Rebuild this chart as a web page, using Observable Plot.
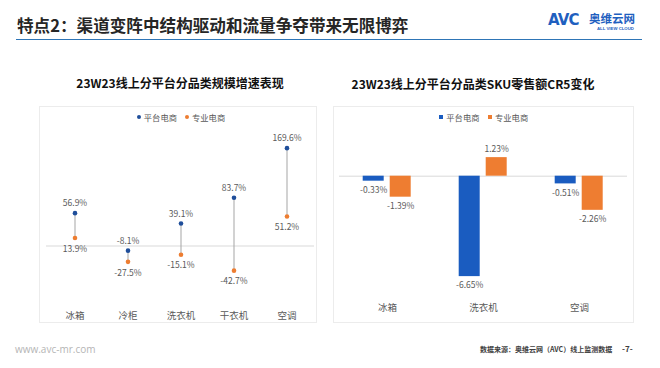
<!DOCTYPE html>
<html><head><meta charset="utf-8">
<script src="https://cdn.jsdelivr.net/npm/d3@7"></script>
<script src="https://cdn.jsdelivr.net/npm/@observablehq/plot@0.6"></script>
<style>
html,body{margin:0;padding:0;background:#fff;}
#page{position:relative;width:660px;height:368px;overflow:hidden;background:#fff;font-family:"Noto Sans CJK SC","Noto Sans",sans-serif;}
.abs{position:absolute;white-space:nowrap;}
.panel{position:absolute;border:1px solid #ececec;box-sizing:border-box;}
.ctitle{position:absolute;font-weight:bold;font-size:12px;color:#111;line-height:14px;transform:translateX(-50%);white-space:nowrap;}
.legend{position:absolute;display:flex;align-items:center;font-size:8.3px;color:#595959;line-height:10px;white-space:nowrap;}
.sw{display:inline-block;margin-right:3px;}
.item{display:flex;align-items:center;margin:0 4px;}
svg{position:absolute;overflow:visible;}
</style></head>
<body><div id="page">
<div class="abs" style="left:17px;top:14px;font-size:16.6px;font-weight:bold;color:#262626;line-height:22px;">特点2：渠道变阵中结构驱动和流量争夺带来无限博弈</div>
<div class="abs" style="left:16px;top:38.5px;width:626px;height:1.4px;background:#2e75b6;"></div>
<div class="abs" style="left:548px;top:9px;font-family:'DejaVu Sans',sans-serif;font-weight:bold;font-size:15px;color:#1f5fbf;line-height:22px;letter-spacing:-0.8px;">AVC</div>
<div class="abs" style="left:589px;top:11px;font-size:11.5px;font-weight:bold;color:#1f5fbf;line-height:14px;">奥维云网</div>
<div class="abs" style="left:597px;top:26px;font-family:'Liberation Sans',sans-serif;font-size:4.3px;font-weight:bold;color:#1f5fbf;line-height:5px;">ALL VIEW CLOUD</div>

<div class="ctitle" style="left:180px;top:76px;">23W23线上分平台分品类规模增速表现</div>
<div class="ctitle" style="left:473px;top:77px;">23W23线上分平台分品类SKU零售额CR5变化</div>

<div class="panel" style="left:39px;top:106px;width:278px;height:217px;"></div>
<div class="panel" style="left:333px;top:106px;width:301px;height:217px;"></div>

<div class="legend" id="leg1" style="left:38px;top:112px;width:286px;justify-content:center;"></div>
<div class="legend" id="leg2" style="left:333px;top:112px;width:301px;justify-content:center;"></div>

<div id="c1"></div>
<div id="c2"></div>

<div class="abs" style="left:15px;top:342px;font-family:'Open Sans',sans-serif;font-size:10px;color:#b5b5b5;line-height:14px;">www.avc-mr.com</div>
<div class="abs" style="left:480px;top:344px;font-size:7px;font-weight:bold;color:#404040;line-height:10px;">数据来源：奥维云网（AVC）线上监测数据</div>
<div class="abs" style="left:622px;top:343px;font-size:8px;font-weight:bold;color:#404040;line-height:11px;">-7-</div>
</div>
<script>
const seriesNames = ["平台电商", "专业电商"];
const seriesDotColors = ["#1f4e9a", "#ed7d31"];
const seriesBarColors = ["#1a5cc0", "#ee7d31"];

const cats1 = ["冰箱", "冷柜", "洗衣机", "干衣机", "空调"];
const platform1 = [56.9, -8.1, 39.1, 83.7, 169.6];
const specialty1 = [13.9, -27.5, -15.1, -42.7, 51.2];

const cats2 = ["冰箱", "洗衣机", "空调"];
const platform2 = [-0.33, -6.65, -0.51];
const specialty2 = [-1.39, 1.23, -2.26];

function legend(el, colors, shape) {
  seriesNames.forEach((n, i) => {
    const it = document.createElement("span");
    it.className = "item";
    const sw = document.createElement("span");
    sw.className = "sw";
    if (shape === "dot") { sw.style.cssText = `width:4px;height:4px;border-radius:50%;background:${colors[i]}`; }
    else { sw.style.cssText = `width:4.5px;height:4.5px;background:${colors[i]}`; }
    it.appendChild(sw);
    const t = document.createElement("span");
    t.textContent = n;
    it.appendChild(t);
    el.appendChild(it);
  });
}
legend(document.getElementById("leg1"), seriesDotColors, "dot");
legend(document.getElementById("leg2"), seriesBarColors, "sq");

const rows1 = cats1.map((c, i) => ({cat: c, p: platform1[i], s: specialty1[i]}));

const chart1 = Plot.plot({
  width: 280, height: 218,
  marginLeft: 8, marginRight: 4, marginTop: 25.1, marginBottom: 48.65,
  x: {type: "band", domain: cats1, padding: 0},
  y: {domain: [-50, 200], axis: null},
  style: {fontFamily: "'Noto Sans CJK SC', sans-serif", color: "#595959", background: "transparent"},
  marks: [
    Plot.ruleY([0], {stroke: "#d9d9d9"}),
    Plot.ruleX(rows1, {x: "cat", y1: "p", y2: "s", stroke: "#a5a5a5", strokeWidth: 1}),
    Plot.dot(rows1, {x: "cat", y: "p", r: 2.3, fill: seriesDotColors[0], stroke: "none"}),
    Plot.dot(rows1, {x: "cat", y: "s", r: 2.3, fill: seriesDotColors[1], stroke: "none"}),
    Plot.text(rows1, {x: "cat", y: "p", text: d => d.p.toFixed(1) + "%", dy: -9.5, fontSize: 8.5, fill: "#595959"}),
    Plot.text(rows1, {x: "cat", y: "s", text: d => d.s.toFixed(1) + "%", dy: 11, fontSize: 8.5, fill: "#595959"}),
    Plot.axisX({tickSize: 0, tickPadding: 37.6, fontSize: 9.5, fill: "#595959", label: null})
  ]
});
chart1.style.left = "38px"; chart1.style.top = "105px";
document.getElementById("c1").appendChild(chart1);

const rows2 = cats2.flatMap((c, i) => [
  {cat: c, series: seriesNames[0], v: platform2[i]},
  {cat: c, series: seriesNames[1], v: specialty2[i]}
]);

const chart2 = Plot.plot({
  width: 301, height: 217,
  marginLeft: 6.3, marginRight: 6.7, marginTop: 39.5, marginBottom: 26.5,
  fx: {domain: cats2, padding: 0, label: null},
  x: {domain: seriesNames, paddingInner: 0.22, paddingOuter: 0.868, axis: null},
  y: {domain: [-8, 2], axis: null},
  color: {domain: seriesNames, range: seriesBarColors},
  style: {fontFamily: "'Noto Sans CJK SC', sans-serif", color: "#595959", background: "transparent"},
  marks: [
    Plot.ruleY([0], {stroke: "#d9d9d9"}),
    Plot.barY(rows2, {fx: "cat", x: "series", y: "v", fill: "series"}),
    Plot.text(rows2.filter(d => d.v < 0), {fx: "cat", x: "series", y: "v", text: d => d.v.toFixed(2) + "%", dy: 9, fontSize: 8.5, fill: "#595959"}),
    Plot.text(rows2.filter(d => d.v >= 0), {fx: "cat", x: "series", y: "v", text: d => d.v.toFixed(2) + "%", dy: -8, fontSize: 8.5, fill: "#595959"}),
    Plot.axisFx({anchor: "bottom", tickSize: 0, tickPadding: 7.2, fontSize: 9.5, fill: "#595959", label: null})
  ]
});
chart2.style.left = "333px"; chart2.style.top = "106px";
document.getElementById("c2").appendChild(chart2);
</script>
</body></html>
